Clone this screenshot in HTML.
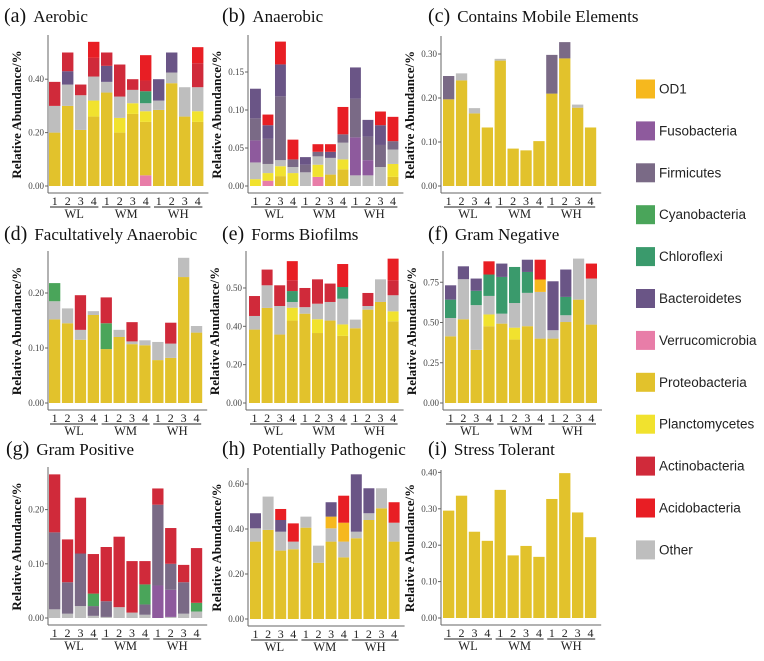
<!DOCTYPE html>
<html><head><meta charset="utf-8">
<style>
html,body{margin:0;padding:0;background:#fff;}
svg{display:block;}
</style></head>
<body>
<svg id="fig" width="764" height="661" xmlns="http://www.w3.org/2000/svg"></svg>
<script>
const taxa = ["Verrucomicrobia","Proteobacteria","Planctomycetes","Other","OD1","Fusobacteria","Firmicutes","Cyanobacteria","Chloroflexi","Bacteroidetes","Actinobacteria","Acidobacteria"];
const legendOrder = ["OD1","Fusobacteria","Firmicutes","Cyanobacteria","Chloroflexi","Bacteroidetes","Verrucomicrobia","Proteobacteria","Planctomycetes","Actinobacteria","Acidobacteria","Other"];
const colors = {OD1:"#F6B81E",Fusobacteria:"#8E5A9D",Firmicutes:"#7A6A86",Cyanobacteria:"#4AA55A",Chloroflexi:"#3A9A6C",Bacteroidetes:"#6A5586",Verrucomicrobia:"#E87DA8",Proteobacteria:"#E2C22C",Planctomycetes:"#F1E22E",Actinobacteria:"#D02A3A",Acidobacteria:"#E81E24",Other:"#BEBEBE"};
const sampleLabels = ["1","2","3","4","1","2","3","4","1","2","3","4"];
const groupLabels = ["WL","WM","WH"];

const dataA = {
 Verrucomicrobia:[0,0,0,0,0,0,0,.04,0,0,0,0],
 Proteobacteria:[.20,.30,.21,.26,.35,.20,.27,.20,.285,.385,.26,.24],
 Planctomycetes:[0,0,0,.06,0,.055,.04,.04,0,0,0,.04],
 Other:[.10,.08,.13,.09,.04,.08,.05,.03,.035,.04,.11,.09],
 Chloroflexi:[0,0,0,0,0,0,0,.045,0,0,0,0],
 Bacteroidetes:[0,.05,0,0,.06,0,0,0,.08,.075,0,0],
 Actinobacteria:[.09,.07,.04,.07,.05,.12,.04,.04,0,0,0,.09],
 Acidobacteria:[0,0,0,.06,0,0,0,.095,0,0,0,.06]
};
const dataB = {
 Verrucomicrobia:[0,.007,0,0,0,.012,0,0,0,0,0,0],
 Proteobacteria:[0,0,.013,0,0,0,.015,.022,0,0,0,.012],
 Planctomycetes:[.009,.010,.013,.017,0,.016,0,.013,0,0,0,.017],
 Other:[.022,.012,.008,.008,.018,.011,.022,.022,.014,.014,.025,.019],
 Fusobacteria:[.029,0,0,0,0,0,0,0,.050,.020,0,0],
 Firmicutes:[.029,.033,.084,.010,.010,.006,0,.011,.051,.031,.029,.011],
 Bacteroidetes:[.039,.018,.042,0,.010,0,.008,0,.041,.022,.026,0],
 Acidobacteria:[0,.014,.030,.026,0,.010,.010,.036,0,0,.018,.032]
};
const dataC = {
 Proteobacteria:[.197,.24,.165,.133,.285,.085,.081,.102,.21,.29,.178,.133],
 Other:[0,.016,.012,0,.004,0,0,0,0,0,.007,0],
 Firmicutes:[.053,0,0,0,0,0,0,0,.088,.037,0,0]
};
const dataD = {
 Proteobacteria:[.152,.145,.115,.16,.098,.12,.107,.105,.078,.082,.229,.128],
 Other:[.033,.027,.018,.007,0,.013,.005,.009,.033,.026,.035,.012],
 Cyanobacteria:[.033,0,0,0,.047,0,0,0,0,0,0,0],
 Actinobacteria:[0,0,.063,0,.047,0,.035,0,0,.038,0,0]
};
const dataE = {
 Proteobacteria:[.383,.496,.357,.43,.466,.365,.43,.35,.39,.487,.527,.426],
 Planctomycetes:[0,0,0,.067,0,.072,0,.06,0,0,0,.052],
 Other:[.071,.118,.149,.03,.034,.081,.097,.134,.045,.019,.118,.084],
 Chloroflexi:[0,0,0,.057,0,0,0,.061,0,0,0,0],
 Actinobacteria:[.104,.082,.108,.056,.10,.127,.096,0,0,.068,0,.078],
 Acidobacteria:[0,0,0,.10,0,0,0,.12,0,0,0,.113]
};
const dataF = {
 Proteobacteria:[.414,.52,.33,.477,.493,.394,.477,.40,.40,.503,.642,.487],
 Planctomycetes:[0,0,0,.073,0,.074,0,0,0,0,0,0],
 Other:[.114,.249,.278,.115,.062,.153,.207,.29,.052,.042,.255,.286],
 OD1:[0,0,0,0,0,0,0,.077,0,0,0,0],
 Chloroflexi:[.114,0,.089,.133,.228,.224,.13,0,0,.114,0,0],
 Bacteroidetes:[.089,.08,.076,0,.083,0,.076,0,.304,.17,0,0],
 Acidobacteria:[0,0,0,.082,0,0,0,.123,0,0,0,.093]
};
const dataG = {
 Other:[.016,.008,.022,.004,.002,.02,.01,.006,0,.002,.008,.012],
 Fusobacteria:[0,0,0,0,0,0,0,0,.06,.05,0,0],
 Firmicutes:[.142,.058,.097,.018,.029,0,0,.019,.149,.048,.058,0],
 Cyanobacteria:[0,0,0,.023,0,0,0,.037,0,0,0,.016],
 Actinobacteria:[.107,.079,.103,.073,.10,.13,.095,.043,.03,.066,.032,.101]
};
const dataH = {
 Proteobacteria:[.344,.396,.304,.31,.406,.25,.344,.274,.359,.44,.492,.344],
 Other:[.059,.148,.084,.034,.049,.076,.059,.07,.029,.03,.089,.084],
 OD1:[0,0,0,0,0,0,.052,.084,0,0,0,0],
 Bacteroidetes:[.067,0,.052,0,0,0,.064,0,.255,.111,0,0],
 Acidobacteria:[0,0,.049,.081,0,0,0,.12,0,0,0,.091]
};
const dataI = {
 Proteobacteria:[.295,.336,.237,.212,.352,.172,.198,.168,.327,.398,.29,.222]
};

const ticksA=[0,0.2,0.4], tickLabelsA=["0.00","0.20","0.40"];
const ticksB=[0,0.05,0.1,0.15], tickLabelsB=["0.00","0.05","0.10","0.15"];
const ticksC=[0,0.1,0.2,0.3], tickLabelsC=["0.00","0.10","0.20","0.30"];
const ticksD=[0,0.1,0.2], tickLabelsD=["0.00","0.10","0.20"];
const ticksE=[0,0.2,0.4,0.6], tickLabelsE=["0.00","0.20","0.40","0.50"];
const ticksF=[0,0.25,0.5,0.75], tickLabelsF=["0.00","0.25","0.50","0.75"];
const ticksG=[0,0.1,0.2], tickLabelsG=["0.00","0.10","0.20"];
const ticksH=[0,0.2,0.4,0.6], tickLabelsH=["0.00","0.20","0.40","0.60"];
const ticksI=[0,0.1,0.2,0.3,0.4], tickLabelsI=["0.00","0.10","0.20","0.30","0.40"];

const panels = [
 {id:"a",title:"Aerobic",data:dataA,ticks:ticksA,labels:tickLabelsA,ax:48,bx:49,pitch:13.0,y0:186,ppu:267,top:35,tx:4,ty:22},
 {id:"b",title:"Anaerobic",data:dataB,ticks:ticksB,labels:tickLabelsB,ax:248,bx:250,pitch:12.5,y0:186,ppu:760,top:35,tx:222,ty:22},
 {id:"c",title:"Contains Mobile Elements",data:dataC,ticks:ticksC,labels:tickLabelsC,ax:441,bx:443,pitch:12.9,y0:186,ppu:440,top:36,tx:428,ty:22},
 {id:"d",title:"Facultatively Anaerobic",data:dataD,ticks:ticksD,labels:tickLabelsD,ax:48,bx:49,pitch:12.9,y0:403,ppu:550,top:251,tx:4,ty:240},
 {id:"e",title:"Forms Biofilms",data:dataE,ticks:ticksE,labels:tickLabelsE,ax:246,bx:249,pitch:12.6,y0:403,ppu:191.7,top:251,tx:222,ty:240},
 {id:"f",title:"Gram Negative",data:dataF,ticks:ticksF,labels:tickLabelsF,ax:443,bx:445,pitch:12.8,y0:403,ppu:161,top:251,tx:428,ty:240},
 {id:"g",title:"Gram Positive",data:dataG,ticks:ticksG,labels:tickLabelsG,ax:48,bx:49,pitch:12.9,y0:618,ppu:542,top:467,tx:6,ty:455},
 {id:"h",title:"Potentially Pathogenic",data:dataH,ticks:ticksH,labels:tickLabelsH,ax:248,bx:250,pitch:12.6,y0:619,ppu:225,top:468,tx:222,ty:455},
 {id:"i",title:"Stress Tolerant",data:dataI,ticks:ticksI,labels:tickLabelsI,ax:441,bx:443,pitch:12.9,y0:618,ppu:364,top:470,tx:428,ty:455}
];

const NS="http://www.w3.org/2000/svg";
const svg=document.getElementById("fig");
function mk(tag,attrs,parent){const e=document.createElementNS(NS,tag);for(const k in attrs)e.setAttribute(k,attrs[k]);(parent||svg).appendChild(e);return e;}
const SERIF='"Liberation Serif", serif';

panels.forEach(p=>{
  const g=mk("g",{});
  
  
  const yS=v=>p.y0-v*p.ppu;
  const xS=i=>p.bx+i*p.pitch;
  const bw=p.pitch-1.6;
  const t=mk("text",{x:p.tx,y:p.ty,"font-family":SERIF,"font-size":"17",fill:"#111"},g);
  
  
  const s1=mk("tspan",{"font-size":"20"},t); s1.textContent="("+p.id+")";
  const s2=mk("tspan",{dx:"7"},t); s2.textContent=p.title;
  for(let i=0;i<12;i++){
    let cum=0;
    taxa.forEach(tx=>{
      const arr=p.data[tx]; if(!arr) return;
      const v=arr[i]; if(!v) return;
      const r=mk("rect",{x:xS(i).toFixed(2),y:yS(cum+v).toFixed(2),width:bw.toFixed(2),height:(v*p.ppu).toFixed(2),fill:colors[tx]},g);
      
      
      cum+=v;
    });
  }
  const xEnd=xS(11)+bw+5;
  const axY=p.y0+7;
  const ya=mk("line",{x1:p.ax,y1:p.top,x2:p.ax,y2:axY,stroke:"#666","stroke-width":"1"},g);
  
  
  const xa=mk("line",{x1:p.ax,y1:axY,x2:xEnd,y2:axY,stroke:"#666","stroke-width":"1"},g);
  
  
  p.ticks.forEach((tv,k)=>{
    const y=yS(tv);
    mk("line",{x1:p.ax-3,y1:y,x2:p.ax,y2:y,stroke:"#666"},g);
    const tl=mk("text",{x:p.ax-4,y:y+3,"text-anchor":"end","font-family":SERIF,"font-size":"9",fill:"#444"},g);
    
    
    tl.textContent=p.labels[k];
  });
  const yl=mk("text",{transform:"translate("+(p.ax-27)+","+((p.top+p.y0)/2+4)+") rotate(-90)","text-anchor":"middle","font-family":SERIF,"font-size":"13","font-weight":"bold",fill:"#111"},g);
  
  
  yl.textContent="Relative Abundance/%";
  for(let i=0;i<12;i++){
    const xl=mk("text",{x:xS(i)+bw/2,y:axY+12,"text-anchor":"middle","font-family":SERIF,"font-size":"12",fill:"#222"},g);
    
    
    xl.textContent=sampleLabels[i];
  }
  groupLabels.forEach((gl,k)=>{
    const x1=xS(k*4)+1, x2=xS(k*4+3)+bw-1;
    mk("line",{x1:x1,y1:axY+14,x2:x2,y2:axY+14,stroke:"#222","stroke-width":"0.9"},g);
    const gt=mk("text",{x:(x1+x2)/2,y:axY+25,"text-anchor":"middle","font-family":SERIF,"font-size":"12.5",fill:"#222"},g);
    
    
    gt.textContent=gl;
  });
});

const lg=mk("g",{});


legendOrder.forEach((tx,k)=>{
  const cy=89+k*41.9;
  const sw=mk("rect",{x:636,y:cy-9.5,width:19,height:19,fill:colors[tx]},lg);
  
  
  const lt=mk("text",{x:659,y:cy+4.5,"font-family":'"Liberation Sans", sans-serif',"font-size":"13.5",fill:"#222"},lg);
  
  
  lt.textContent=tx;
});
</script>
</body></html>
